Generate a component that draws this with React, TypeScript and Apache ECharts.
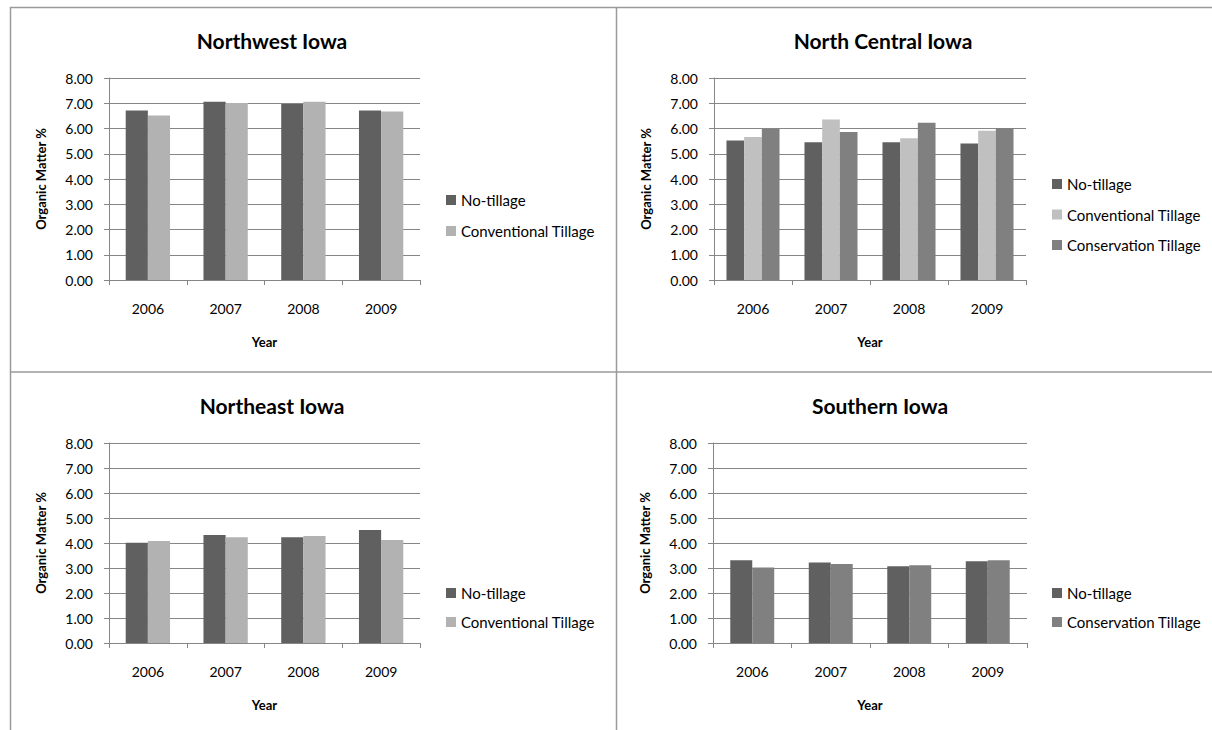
import React, { useEffect, useRef } from "react";
import * as echarts from "echarts";

const years = ["2006", "2007", "2008", "2009"];
const yTicks = [0, 1, 2, 3, 4, 5, 6, 7, 8];

const nwNoTill = [6.71, 7.06, 6.97, 6.71];
const nwConv = [6.51, 7.01, 7.06, 6.67];
const ncNoTill = [5.52, 5.46, 5.46, 5.41];
const ncConv = [5.66, 6.36, 5.61, 5.91];
const ncCons = [5.98, 5.86, 6.23, 6.02];
const neNoTill = [4.01, 4.32, 4.23, 4.52];
const neConv = [4.08, 4.23, 4.28, 4.12];
const soNoTill = [3.31, 3.22, 3.07, 3.27];
const soCons = [3.02, 3.16, 3.11, 3.31];

const titles = ["Northwest Iowa", "North Central Iowa", "Northeast Iowa", "Southern Iowa"];
const NT = "No-tillage";
const CV = "Conventional Tillage";
const CS = "Conservation Tillage";

const FONT = "Lato, 'Open Sans', sans-serif";
const C_NT = "#606060";
const C_CV1 = "#b2b2b2";
const C_CV2 = "#c0c0c0";
const C_CS = "#808080";
const GRID_C = "#868686";
const BORDER_C = "#9a9a9a";

export default function App() {
  const ref = useRef<HTMLDivElement>(null);
  useEffect(() => {
    document.body.style.margin = "0";
    if (!ref.current) return;
    const chart = echarts.init(ref.current, undefined, { renderer: "svg" });

    const grids = [
      { left: 109, top: 78, width: 311, height: 202 },
      { left: 714, top: 78, width: 312, height: 202 },
      { left: 109, top: 443, width: 311, height: 200 },
      { left: 713, top: 443, width: 314, height: 200 },
    ];

    const xAxes = grids.map((_, i) => ({
      type: "category" as const,
      gridIndex: i,
      data: years,
      boundaryGap: true,
      name: "Year",
      nameLocation: "middle" as const,
      nameGap: 55,
      nameTextStyle: { fontFamily: FONT, fontWeight: "bold" as const, fontSize: 13, color: "#000" },
      axisLine: { show: true, lineStyle: { color: GRID_C, width: 1 } },
      axisTick: { show: true, inside: false, length: 5, alignWithLabel: false, lineStyle: { color: GRID_C } },
      axisLabel: { fontFamily: FONT, fontSize: 14, color: "#000", margin: 21 },
      splitLine: { show: false },
    }));

    const yAxes = grids.map((_, i) => ({
      type: "value" as const,
      gridIndex: i,
      min: yTicks[0],
      max: yTicks[yTicks.length - 1],
      interval: 1,
      name: "Organic Matter %",
      nameLocation: "middle" as const,
      nameRotate: 90,
      nameGap: 62,
      nameTextStyle: { fontFamily: FONT, fontWeight: "bold" as const, fontSize: 13, color: "#000" },
      axisLine: { show: true, lineStyle: { color: GRID_C, width: 1 } },
      axisTick: { show: true, inside: false, length: 5, lineStyle: { color: GRID_C } },
      axisLabel: {
        fontFamily: FONT,
        fontSize: 14,
        color: "#000",
        margin: 16,
        formatter: (v: number) => v.toFixed(2),
      },
      splitLine: { show: true, lineStyle: { color: GRID_C, width: 1 } },
    }));

    const bar = (name: string, data: number[], idx: number, color: string, gap: string) => ({
      type: "bar" as const,
      name,
      data,
      xAxisIndex: idx,
      yAxisIndex: idx,
      barGap: "0%",
      barCategoryGap: gap,
      itemStyle: { color },
      emphasis: { disabled: true },
    });

    const series = [
      bar(NT, nwNoTill, 0, C_NT, "43%"),
      bar(CV, nwConv, 0, C_CV1, "43%"),
      bar(NT, ncNoTill, 1, C_NT, "32%"),
      bar(CV, ncConv, 1, C_CV2, "32%"),
      bar(CS, ncCons, 1, C_CS, "32%"),
      bar(NT, neNoTill, 2, C_NT, "43%"),
      bar(CV, neConv, 2, C_CV1, "43%"),
      bar(NT, soNoTill, 3, C_NT, "44%"),
      bar(CS, soCons, 3, C_CS, "44%"),
    ];

    const legendBase = {
      orient: "vertical" as const,
      itemWidth: 10,
      itemHeight: 10,
      icon: "rect",
      selectedMode: false,
      padding: 0,
      textStyle: { fontFamily: FONT, fontSize: 15, color: "#000" },
    };
    const legends = [
      { ...legendBase, left: 446, top: 192.5, itemGap: 16, data: [{ name: NT, itemStyle: { color: C_NT } }, { name: CV, itemStyle: { color: C_CV1 } }] },
      { ...legendBase, left: 1052, top: 176.5, itemGap: 15.5, data: [{ name: NT, itemStyle: { color: C_NT } }, { name: CV, itemStyle: { color: C_CV2 } }, { name: CS, itemStyle: { color: C_CS } }] },
      { ...legendBase, left: 446, top: 585.5, itemGap: 14, data: [{ name: NT, itemStyle: { color: C_NT } }, { name: CV, itemStyle: { color: C_CV1 } }] },
      { ...legendBase, left: 1052, top: 585.5, itemGap: 14, data: [{ name: NT, itemStyle: { color: C_NT } }, { name: CS, itemStyle: { color: C_CS } }] },
    ];

    const titlePos = [
      [272, 40],
      [883, 40],
      [272, 405],
      [880, 405],
    ];

    const graphic: any[] = [
      { type: "line", shape: { x1: 10, y1: 7.5, x2: 1212, y2: 7.5 }, style: { stroke: BORDER_C, lineWidth: 1.5 }, silent: true },
      { type: "line", shape: { x1: 10.5, y1: 7, x2: 10.5, y2: 730 }, style: { stroke: BORDER_C, lineWidth: 1.5 }, silent: true },
      { type: "line", shape: { x1: 616.5, y1: 7, x2: 616.5, y2: 730 }, style: { stroke: BORDER_C, lineWidth: 1.5 }, silent: true },
      { type: "line", shape: { x1: 10, y1: 372, x2: 1212, y2: 372 }, style: { stroke: BORDER_C, lineWidth: 1.5 }, silent: true },
      ...titles.map((t, i) => ({
        type: "text",
        x: titlePos[i][0],
        y: titlePos[i][1],
        silent: true,
        style: {
          text: t,
          fill: "#000",
          font: `bold 21px ${FONT}`,
          align: "center",
          verticalAlign: "middle",
        },
      })),
    ];

    chart.setOption({
      animation: false,
      backgroundColor: "#fff",
      grid: grids,
      xAxis: xAxes,
      yAxis: yAxes,
      series,
      legend: legends,
      graphic,
    });
    return () => chart.dispose();
  }, []);
  return <div ref={ref} style={{ width: 1212, height: 730 }} />;
}
